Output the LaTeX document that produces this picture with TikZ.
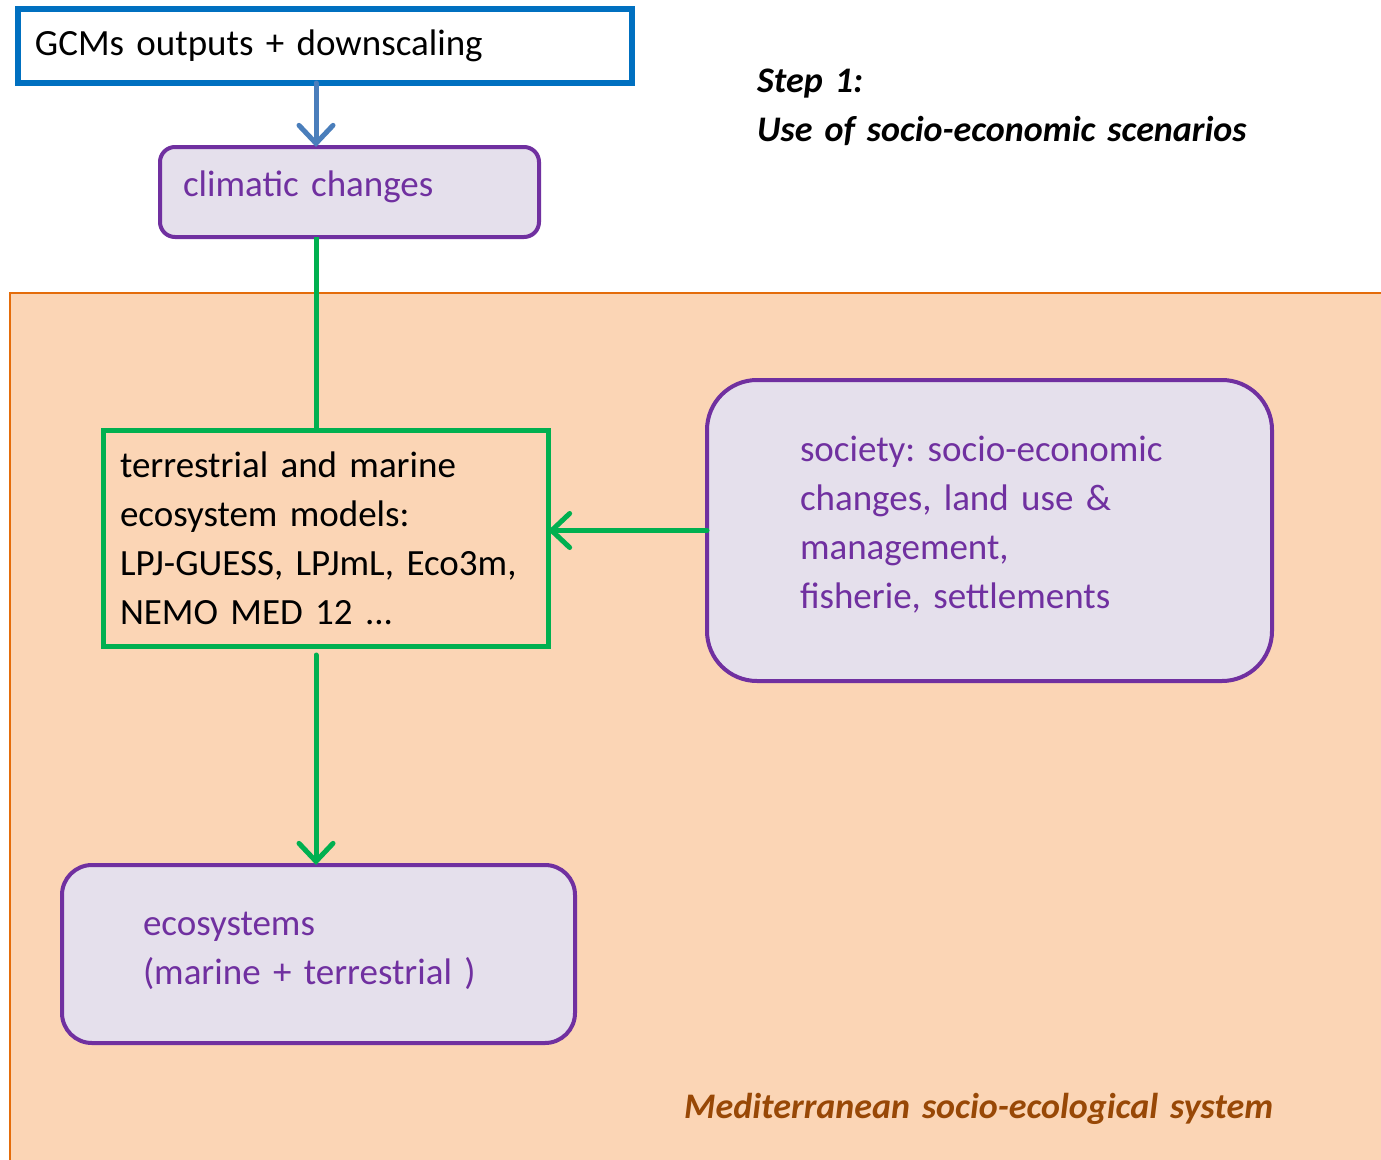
\documentclass[tikz,border=0pt]{standalone}
\usepackage{fontspec}
\setmainfont{Carlito}
\usepackage{tikz}
\usetikzlibrary{arrows.meta,calc}
\definecolor{gcmblue}{HTML}{0070C0}
\definecolor{arrowblue}{HTML}{4A7EBB}
\definecolor{violet}{HTML}{7030A0}
\definecolor{lavender}{HTML}{E5E0EC}
\definecolor{leaf}{HTML}{00B050}
\definecolor{peach}{HTML}{FBD5B5}
\definecolor{rim}{HTML}{E46C0A}
\definecolor{brown}{HTML}{984806}
\tikzset{
  big/.style={font=\fontsize{37}{49}\selectfont\frenchspacing},
  gcmbox/.style={draw=gcmblue, fill=white, line width=6pt, big, align=left, inner sep=0pt, outer sep=0pt},
  lavbox/.style={draw=violet, fill=lavender, line width=4pt, text=violet, big, align=left, inner sep=0pt, outer sep=0pt},
  modelbox/.style={draw=leaf, line width=5pt, big, align=left, inner sep=0pt, outer sep=0pt},
  flow/.style={line width=5pt, line cap=round, -{Straight Barb[length=18pt,width=34pt,line cap=round]}},
  labi/.style={font=\fontsize{36}{49}\selectfont\bfseries\itshape\frenchspacing, align=left, inner sep=0pt, anchor=base west}
}

\begin{document}
\begin{tikzpicture}[x=1pt,y=-1pt]
  \useasboundingbox (0,0) rectangle (1381,1159);
  \clip (0,0) rectangle (1381,1159);
  \fill[white] (0,0) rectangle (1381,1159);

  % socio-ecological system area
  \draw[rim, fill=peach, line width=2.5pt] (10,293) rectangle (1400,1180);
  \coordinate (axis) at (316,0);

  \node[gcmbox, minimum width=614pt, minimum height=74pt, text width=614pt,
        anchor=north west] (gcm) at (18,9) {\hspace*{17pt}GCMs outputs + downscaling};
  \node[lavbox, rounded corners=15pt, minimum width=379pt, minimum height=90pt,
        text width=379pt, anchor=north west] (clim) at (160,147)
        {\hspace*{23pt}climatic changes\par\vspace*{10pt}};
  \node[modelbox, minimum width=445pt, minimum height=216pt, text width=445pt,
        anchor=north west] (models) at (103,430)
        {\hspace*{17pt}terrestrial and marine\\\hspace*{17pt}ecosystem models:\\
         \hspace*{17pt}LPJ-GUESS, LPJmL, Eco3m,\\\hspace*{17pt}NEMO MED 12 ...\par\vspace*{4pt}};
  \node[lavbox, rounded corners=50pt, minimum width=565pt, minimum height=301pt,
        text width=565pt, anchor=north west] (soc) at (707,380)
        {\hspace*{93pt}society: socio-economic\\\hspace*{93pt}changes, land use \&\\
         \hspace*{93pt}management,\\\hspace*{93pt}fisherie, settlements\par\vspace*{12pt}};
  \node[lavbox, rounded corners=30pt, minimum width=513pt, minimum height=178pt,
        text width=513pt, anchor=north west] (eco) at (62,865)
        {\hspace*{81pt}ecosystems\\\hspace*{81pt}(marine + terrestrial )\par\vspace*{6pt}};

  \node[labi, text width=600pt] (step) at (757,92) {Step 1:\\Use of socio-economic scenarios};
  \node[labi, text=brown, text width=640pt] (med) at (684,1118) {Mediterranean socio-ecological system};

  \draw[flow, arrowblue] (axis |- gcm.south) -- (axis |- clim.north);
  \draw[leaf, line width=5pt] (axis |- clim.south) -- (axis |- models.north);
  \draw[flow, leaf] (soc.west) -- (models.east |- soc.west);
  \draw[flow, leaf, shorten <=9pt] (axis |- models.south) -- (axis |- eco.north);
\end{tikzpicture}
\end{document}
